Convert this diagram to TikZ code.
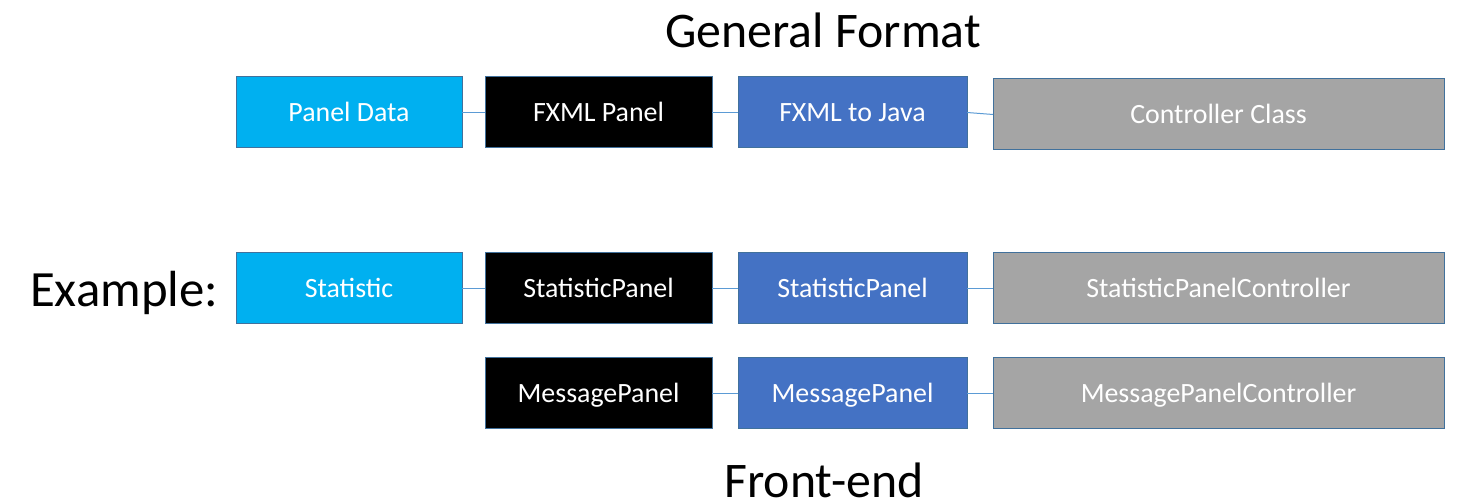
\documentclass[tikz,border=0pt]{standalone}
\usepackage{fontspec}
\setmainfont{Carlito}
\definecolor{cLight}{HTML}{00B0F0}
\definecolor{cBlue}{HTML}{4472C4}
\definecolor{cGray}{HTML}{A5A5A5}
\definecolor{cEdge}{HTML}{41719C}
\definecolor{cLink}{HTML}{5B9BD5}
\begin{document}
\begin{tikzpicture}[x=1bp,y=1bp,
  box/.style={rectangle, draw=cEdge, line width=1bp, text=white, outer sep=0pt,
    minimum height=71bp, font=\fontsize{28}{30}\selectfont, text height=20bp, text depth=1bp, inner sep=0pt},
  boxA/.style={box, fill=cLight, minimum width=226bp},
  boxB/.style={box, fill=black, minimum width=227bp},
  boxC/.style={box, fill=cBlue, minimum width=229bp},
  boxD/.style={box, fill=cGray, minimum width=451bp},
  link/.style={draw=cLink, line width=1bp},
  big/.style={font=\fontsize{50}{55}\selectfont, inner sep=0pt, text=black}]
\useasboundingbox (0,0) rectangle (1459,503);
\fill[white] (0,0) rectangle (1459,503);
% titles
\node[big, anchor=base] (title) at (823,455) {General Format};
\node[big, anchor=base west, font=\fontsize{51}{56}\selectfont] (ex) at (30,196) {Example:};
\node[big, anchor=base, text depth=0pt] (front) at (824,5) {Front-end};
% row 1
\node[boxA] (a1) at (349,390.5) {Panel Data};
\node[boxB] (b1) at (598.5,390.5) {FXML Panel};
\node[boxC] (c1) at (852.5,390.5) {FXML to Java};
\node[boxD] (d1) at (1218.5,388.5) {Controller Class};
% row 2
\node[boxA] (a2) at (349,214.5) {Statistic};
\node[boxB] (b2) at (598.5,214.5) {StatisticPanel};
\node[boxC] (c2) at (852.5,214.5) {StatisticPanel};
\node[boxD] (d2) at (1218.5,214.5) {StatisticPanelController};
% row 3
\node[boxB] (b3) at (598.5,109.5) {MessagePanel};
\node[boxC] (c3) at (852.5,109.5) {MessagePanel};
\node[boxD] (d3) at (1218.5,109.5) {MessagePanelController};
% links
\draw[link] (a1.east) -- (b1.west);
\draw[link] (b1.east) -- (c1.west);
\draw[link] (c1.east) -- (d1.west);
\draw[link] (a2.east) -- (b2.west);
\draw[link] (b2.east) -- (c2.west);
\draw[link] (c2.east) -- (d2.west);
\draw[link] (b3.east) -- (c3.west);
\draw[link] (c3.east) -- (d3.west);
\end{tikzpicture}
\end{document}
